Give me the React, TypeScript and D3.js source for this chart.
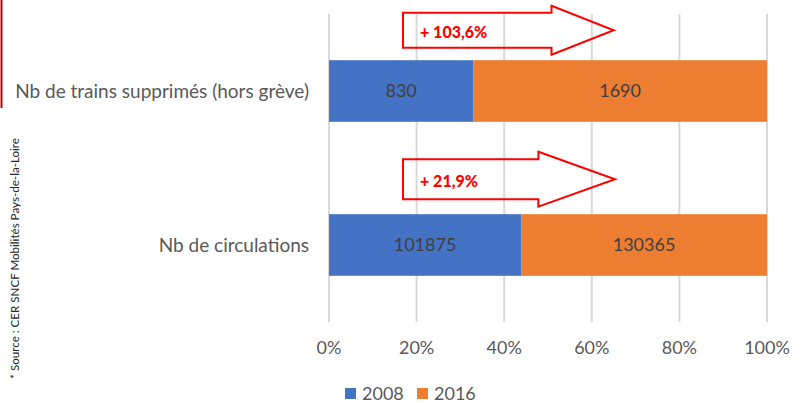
import React from "react";
import * as d3 from "d3";

const categories = ["Nb de trains supprimés (hors grève)", "Nb de circulations"];
const series = ["2008", "2016"];
const values2008 = [830, 101875];
const values2016 = [1690, 130365];
const colors = ["#4472C4", "#ED7D31"];
const ticks = [0, 0.2, 0.4, 0.6, 0.8, 1];
const growthLabels = ["+ 103,6%", "+ 21,9%"];
// arrow extents in axis share units: [bodyStart, headBase, tip]
const arrowX = [
  [0.169, 0.508, 0.65],
  [0.169, 0.478, 0.653],
];
const sourceText = "* Source : CER SNCF Mobilités Pays-de-la-Loire";

const W = 803;
const H = 403;
const FONT = "Lato, 'Open Sans', sans-serif";

export default function App() {
  const x = d3.scaleLinear().domain([0, 1]).range([329, 767]);
  const y = d3.scaleBand().domain(categories).range([14, 322]).paddingInner(0.6).paddingOuter(0.3);
  const bh = y.bandwidth();
  const fmt = d3.format(".0%");

  const rows = categories.map((c, i) => {
    const total = values2008[i] + values2016[i];
    return { c, i, s: [values2008[i] / total, values2016[i] / total], v: [values2008[i], values2016[i]] };
  });

  return (
    <svg width={W} height={H} style={{ position: "absolute", left: 0, top: 0, background: "#fff" }}>
      <rect x={0} y={0} width={W} height={H} fill="#fff" />
      <line x1={1.5} x2={1.5} y1={0} y2={108} stroke="#C00000" strokeWidth={2} />
      {ticks.map((t) => (
        <line key={t} x1={x(t)} x2={x(t)} y1={14} y2={322} stroke="#D9D9D9" strokeWidth={2} />
      ))}
      {rows.map((r) => {
        const y0 = y(r.c)!;
        let acc = 0;
        return (
          <g key={r.c}>
            {r.s.map((s, k) => {
              const x0 = x(acc);
              acc += s;
              const x1 = x(acc);
              return (
                <g key={k}>
                  <rect x={x0} y={y0} width={x1 - x0} height={bh} fill={colors[k]} />
                  <text x={(x0 + x1) / 2} y={y0 + bh / 2 + 6} textAnchor="middle" fontFamily={FONT} fontSize={18} fill="#404040">
                    {r.v[k]}
                  </text>
                </g>
              );
            })}
            <text x={309} y={y0 + bh / 2 + 6.5} textAnchor="end" fontFamily={FONT} fontSize={19} fill="#595959">
              {r.c}
            </text>
          </g>
        );
      })}
      {rows.map((r) => {
        const [a, b, c] = arrowX[r.i];
        const cy = y(r.c)! - (r.i === 0 ? 30 : 35);
        const bodyHalf = r.i === 0 ? 17.5 : 20;
        const headHalf = r.i === 0 ? 24.5 : 27.5;
        const pts: [number, number][] = [
          [x(a), cy - bodyHalf],
          [x(b), cy - bodyHalf],
          [x(b), cy - headHalf],
          [x(c), cy],
          [x(b), cy + headHalf],
          [x(b), cy + bodyHalf],
          [x(a), cy + bodyHalf],
        ];
        return (
          <g key={"arr" + r.i}>
            <polygon points={pts.map((p) => p.join(",")).join(" ")} fill="none" stroke="#FF0000" strokeWidth={2} />
            <text x={x(a) + 17} y={cy + 8} fontFamily={FONT} fontWeight={900} fontSize={16} fill="#FF0000">
              {growthLabels[r.i]}
            </text>
          </g>
        );
      })}
      {ticks.map((t) => (
        <text key={"t" + t} x={x(t)} y={354} textAnchor="middle" fontFamily={FONT} fontSize={18} fill="#595959">
          {fmt(t)}
        </text>
      ))}
      {series.map((s, k) => (
        <g key={s} transform={`translate(${345 + k * 72},0)`}>
          <rect x={0} y={388} width={11} height={11} fill={colors[k]} />
          <text x={17} y={400} fontFamily={FONT} fontSize={18} fill="#595959">
            {s}
          </text>
        </g>
      ))}
      <text transform="translate(18.5,258.5) rotate(-90)" textAnchor="middle" fontFamily={FONT} fontSize={11.6} fill="#262626">
        {sourceText}
      </text>
    </svg>
  );
}
